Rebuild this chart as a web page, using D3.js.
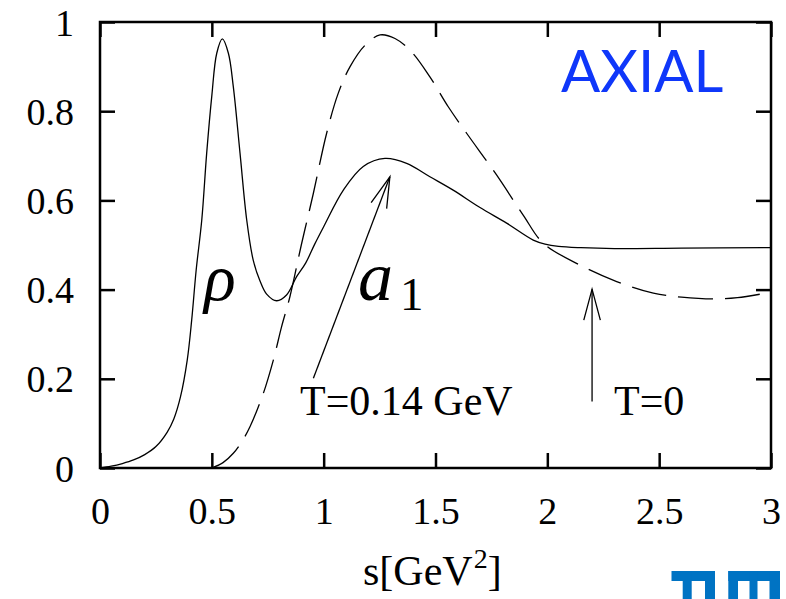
<!DOCTYPE html>
<html>
<head>
<meta charset="utf-8">
<script src="https://cdn.jsdelivr.net/npm/d3@7"></script>
<style>
  html, body { margin: 0; padding: 0; background: #fff; }
  svg { display: block; }
</style>
</head>
<body>
<svg id="chart" width="786" height="599"></svg>
<script>
// Spectral function, axial channel: finite temperature (solid) vs vacuum (dashed)
const sSolid = [0, 0.05, 0.1, 0.15, 0.2, 0.25, 0.3, 0.33, 0.36, 0.39, 0.41, 0.43, 0.455, 0.477,
  0.5, 0.522, 0.547, 0.574, 0.596, 0.626, 0.656, 0.685, 0.715, 0.745, 0.79, 0.834, 0.879, 0.92,
  0.96, 1.0, 1.088, 1.177, 1.274, 1.371, 1.475, 1.579, 1.699, 1.818, 1.937, 1.99, 2.05, 2.15,
  2.3, 2.6, 3.0];
const vSolid = [0, 0.004, 0.01, 0.018, 0.03, 0.048, 0.08, 0.11, 0.16, 0.242, 0.332, 0.444, 0.556, 0.706,
  0.835, 0.93, 0.962, 0.93, 0.855, 0.706, 0.556, 0.466, 0.42, 0.39, 0.375, 0.388, 0.429, 0.46,
  0.502, 0.541, 0.623, 0.676, 0.694, 0.683, 0.653, 0.623, 0.584, 0.549, 0.511, 0.502, 0.497, 0.494,
  0.492, 0.493, 0.494];

const sDashed = [0.5, 0.55, 0.596, 0.635, 0.671, 0.73, 0.775, 0.812, 0.849, 0.9, 0.954, 1.013,
  1.065, 1.118, 1.185, 1.252, 1.319, 1.393, 1.475, 1.557, 1.64, 1.773, 1.892, 1.982, 2.146,
  2.31, 2.474, 2.6, 2.742, 2.85, 3.0];
const vDashed = [0, 0.012, 0.033, 0.06, 0.093, 0.167, 0.242, 0.317, 0.384, 0.5, 0.616, 0.75,
  0.84, 0.9, 0.948, 0.971, 0.963, 0.933, 0.877, 0.81, 0.75, 0.657, 0.567, 0.504, 0.455,
  0.418, 0.392, 0.383, 0.379, 0.382, 0.394];

const xTicks = [0, 0.5, 1, 1.5, 2, 2.5, 3];
const xTickLabels = ["0", "0.5", "1", "1.5", "2", "2.5", "3"];
const yTicks = [0, 0.2, 0.4, 0.6, 0.8, 1];
const yTickLabels = ["0", "0.2", "0.4", "0.6", "0.8", "1"];

// Arrows: [s0, v0, s1, v1] from label to curve
const arrowT014 = [0.954, 0.201, 1.296, 0.653];
const arrowT0 = [2.2, 0.149, 2.2, 0.401];

const svg = d3.select("#chart");
const plotL = 100, plotR = 771, plotT = 22, plotB = 468;

const x = d3.scaleLinear().domain([0, 3]).range([plotL, plotR]);
const y = d3.scaleLinear().domain([0, 1]).range([plotB, plotT]);

const serif = "'Liberation Serif', 'Times New Roman', serif";

svg.append("defs").append("clipPath").attr("id", "plotClip")
  .append("rect").attr("x", plotL).attr("y", plotT)
  .attr("width", plotR - plotL).attr("height", plotB - plotT);

const line = d3.line()
  .x(d => x(d[0])).y(d => y(d[1]))
  .curve(d3.curveCatmullRom.alpha(0.5));

const solid = sSolid.map((s, i) => [s, vSolid[i]]);
const dashed = sDashed.map((s, i) => [s, vDashed[i]]);

const plot = svg.append("g").attr("clip-path", "url(#plotClip)");
plot.append("path").datum(solid).attr("d", line)
  .attr("fill", "none").attr("stroke", "#000").attr("stroke-width", 1.3);
plot.append("path").datum(dashed).attr("d", line)
  .attr("fill", "none").attr("stroke", "#000").attr("stroke-width", 1.3)
  .attr("stroke-dasharray", "35,12");

// Frame with inward ticks on all four sides
const tickLen = 15;
const axisW = 2.5;
svg.append("rect").attr("x", plotL).attr("y", plotT)
  .attr("width", plotR - plotL).attr("height", plotB - plotT)
  .attr("fill", "none").attr("stroke", "#000").attr("stroke-width", axisW);

const xAxisB = d3.axisBottom(x).tickValues(xTicks).tickSizeInner(-tickLen).tickSizeOuter(0)
  .tickFormat((d, i) => xTickLabels[i]).tickPadding(0);
const xAxisT = d3.axisTop(x).tickValues(xTicks).tickSizeInner(-tickLen).tickSizeOuter(0).tickFormat("");
const yAxisL = d3.axisLeft(y).tickValues(yTicks).tickSizeInner(-tickLen).tickSizeOuter(0)
  .tickFormat((d, i) => yTickLabels[i]).tickPadding(0);
const yAxisR = d3.axisRight(y).tickValues(yTicks).tickSizeInner(-tickLen).tickSizeOuter(0).tickFormat("");

function styleAxis(g) {
  g.select(".domain").remove();
  g.selectAll(".tick line").attr("stroke", "#000").attr("stroke-width", axisW);
  g.selectAll(".tick text").attr("fill", "#000")
    .style("font-family", serif).style("font-size", "38px");
}

const gb = svg.append("g").attr("transform", `translate(0,${plotB})`).call(xAxisB).call(styleAxis);
gb.selectAll(".tick text").attr("y", 56).attr("dy", null);
svg.append("g").attr("transform", `translate(0,${plotT})`).call(xAxisT).call(styleAxis);
const gl = svg.append("g").attr("transform", `translate(${plotL},0)`).call(yAxisL).call(styleAxis);
gl.selectAll(".tick text").attr("x", -26).attr("dy", "13px");
svg.append("g").attr("transform", `translate(${plotR},0)`).call(yAxisR).call(styleAxis);

// Axis title
const xt = svg.append("text").attr("x", 363).attr("y", 585)
  .style("font-family", serif).style("font-size", "42px").attr("fill", "#000");
xt.append("tspan").text("s[GeV");
xt.append("tspan").attr("dy", -17).attr("dx", 1).style("font-size", "28px").text("2");
xt.append("tspan").attr("dy", 17).text("]");

// Channel label
svg.append("text").attr("x", 561).attr("y", 92)
  .style("font-family", "Lato, 'Noto Sans', sans-serif").style("font-size", "58px")
  .attr("fill", "#0f37fa").text("AXIAL");

// Resonance labels
svg.append("text").attr("x", 204).attr("y", 300)
  .style("font-family", serif).style("font-style", "italic").style("font-size", "66px")
  .attr("fill", "#000").text("ρ");
const a1 = svg.append("text").attr("x", 358).attr("y", 300)
  .style("font-family", serif).style("font-size", "70px").attr("fill", "#000");
a1.append("tspan").style("font-style", "italic").text("a");
a1.append("tspan").attr("x", 400).attr("y", 310).style("font-size", "47px").text("1");

// Temperature labels
svg.append("text").attr("x", 300).attr("y", 415)
  .style("font-family", serif).style("font-size", "42px").attr("fill", "#000").text("T=0.14 GeV");
svg.append("text").attr("x", 614).attr("y", 415)
  .style("font-family", serif).style("font-size", "42px").attr("fill", "#000").text("T=0");

// Open-headed arrows
function arrow(a) {
  const x0 = x(a[0]), y0 = y(a[1]), x1 = x(a[2]), y1 = y(a[3]);
  const ang = Math.atan2(y0 - y1, x0 - x1);
  const len = 32, spread = 15 * Math.PI / 180;
  const g = svg.append("g").attr("stroke", "#000").attr("stroke-width", 1.3).attr("fill", "none");
  g.append("line").attr("x1", x0).attr("y1", y0).attr("x2", x1).attr("y2", y1);
  g.append("path").attr("d",
    `M${x1 + len * Math.cos(ang + spread)},${y1 + len * Math.sin(ang + spread)}` +
    `L${x1},${y1}` +
    `L${x1 + len * Math.cos(ang - spread)},${y1 + len * Math.sin(ang - spread)}`);
}
arrow(arrowT014);
arrow(arrowT0);

// Institution mark, bottom right
const logo = svg.append("g").attr("fill", "#0073c3");
[[671.5, 571, 43.5, 10], [682.7, 571, 9, 28], [705, 571, 10, 28],
 [728.3, 571, 51.7, 10], [728.3, 571, 9.7, 28], [749.5, 571, 8, 28], [769.5, 571, 10.5, 28]]
  .forEach(r => logo.append("rect").attr("x", r[0]).attr("y", r[1]).attr("width", r[2]).attr("height", r[3]));
</script>
</body>
</html>
